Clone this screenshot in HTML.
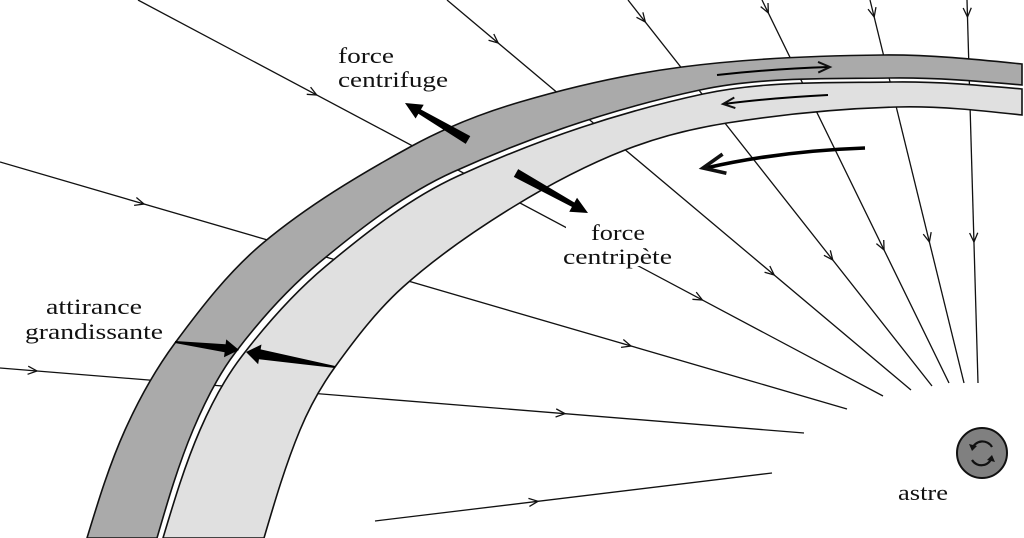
<!DOCTYPE html>
<html><head><meta charset="utf-8">
<style>
html,body{margin:0;padding:0;background:#fff;}
svg{display:block;}
text{font-family:"Liberation Serif",serif;font-size:22px;fill:#111;}
</style></head>
<body>
<svg id="s" width="1024" height="538" viewBox="0 0 1024 538" xmlns="http://www.w3.org/2000/svg">
<g id="lines" stroke="#111" stroke-width="1.3" fill="none"></g>
<g id="bands"></g>
<rect x="566" y="216" width="110" height="50" fill="#fff"/>
<g id="arrows"></g>
<circle cx="982" cy="453" r="25" fill="#808080" stroke="#111" stroke-width="2"/>
<path d="M992 447 A11 11 0 0 0 972 449" stroke="#111" stroke-width="2.2" fill="none"/>
<path d="M969 444 L972 451 L977 446 Z" fill="#111"/>
<path d="M972 460 A11 11 0 0 0 992 457" stroke="#111" stroke-width="2.2" fill="none"/>
<path d="M995 462 L992 455 L987 460 Z" fill="#111"/>
<text x="338" y="63" textLength="56" lengthAdjust="spacingAndGlyphs">force</text>
<text x="338" y="87" textLength="110" lengthAdjust="spacingAndGlyphs">centrifuge</text>
<text x="591" y="240" textLength="54" lengthAdjust="spacingAndGlyphs">force</text>
<text x="563" y="264" textLength="109" lengthAdjust="spacingAndGlyphs">centripète</text>
<text x="46" y="314" textLength="96" lengthAdjust="spacingAndGlyphs">attirance</text>
<text x="25" y="339" textLength="138" lengthAdjust="spacingAndGlyphs">grandissante</text>
<text x="898" y="500" textLength="50" lengthAdjust="spacingAndGlyphs">astre</text>
</svg>
<script>
var NS="http://www.w3.org/2000/svg";
function el(p,t,a){var e=document.createElementNS(NS,t);for(var k in a)e.setAttribute(k,a[k]);p.appendChild(e);return e;}
function dist(a,b){return Math.hypot(a[0]-b[0],a[1]-b[1]);}
function tan(P,i){var n=P.length;
if(i==0){var t=tan(P,1),L=dist(P[0],P[1]);var q=[P[1][0]-t[0]*L/3,P[1][1]-t[1]*L/3];
 var v=[(q[0]-P[0][0]),(q[1]-P[0][1])],m=Math.hypot(v[0],v[1]);return [v[0]/m,v[1]/m,1];}
if(i==n-1){var t=tan(P,n-2),L=dist(P[n-2],P[n-1]);var q=[P[n-2][0]+t[0]*L/3,P[n-2][1]+t[1]*L/3];
 var v=[(P[n-1][0]-q[0]),(P[n-1][1]-q[1])],m=Math.hypot(v[0],v[1]);return [v[0]/m,v[1]/m,1];}
var d0=dist(P[i-1],P[i]),d1=dist(P[i],P[i+1]);var ux=(P[i+1][0]-P[i-1][0])/(d0+d1),uy=(P[i+1][1]-P[i-1][1])/(d0+d1);return [ux,uy,1];}
function cr(P,start){var d=(start||"M")+P[0][0]+" "+P[0][1];for(var i=0;i<P.length-1;i++){var p1=P[i],p2=P[i+1],L=dist(p1,p2);
var t1=tan(P,i),t2=tan(P,i+1);var s1=L/3,s2=L/3;
var c1=[p1[0]+t1[0]*s1,p1[1]+t1[1]*s1],c2=[p2[0]-t2[0]*s2,p2[1]-t2[1]*s2];
d+=" C"+c1.join(" ")+" "+c2.join(" ")+" "+p2.join(" ");}return d;}
function crRev(P){return cr(P.slice().reverse(),"L");}
var L=document.getElementById("lines"),B=document.getElementById("bands"),A=document.getElementById("arrows");
function chev(g,x,y,dx,dy,len,w){var m=Math.hypot(dx,dy);dx/=m;dy/=m;var a=0.42,c=Math.cos(a),s=Math.sin(a);
var p1=[x-len*(dx*c-dy*s),y-len*(dx*s+dy*c)],p2=[x-len*(dx*c+dy*s),y-len*(-dx*s+dy*c)];
el(g,"path",{d:"M"+p1.join(" ")+" L"+x+" "+y+" L"+p2.join(" "),stroke:"#111","stroke-width":w||1.3,fill:"none"});}
function ray(x1,y1,x2,y2,ts){el(L,"line",{x1:x1,y1:y1,x2:x2,y2:y2});ts.forEach(function(t){chev(L,x1+(x2-x1)*t,y1+(y2-y1)*t,x2-x1,y2-y1,10);});}
function tAt(x1,y1,x2,y2,py){return (py-y1)/(y2-y1);}
function rayY(x1,y1,x2,y2,ys){ray(x1,y1,x2,y2,ys.map(function(y){return tAt(x1,y1,x2,y2,y);}));}
rayY(967,0,978,383,[17,242]);
rayY(870,0,964,383,[17,242]);
rayY(762,0,949,383,[13,250]);
rayY(628,0,932,386,[22,260]);
rayY(447,0,911,390,[43,275]);
rayY(138,0,883,396,[95,300]);
rayY(0,162,847,409,[204,346]);
ray(0,368,804,433,[37/804,565/804]);
ray(375,521,772,473,[(538-375)/397]);
var dO=[[87,538],[125,430],[175,343],[263,243],[410,147],[520,102],[682,67],[883,55],[1022,64]];
var dI=[[157,538],[193,430],[235,353],[320,262],[453,172],[700,90],[890,78],[1022,85]];
var lO=[[163,538],[200,430],[242,356],[326,266],[458,176],[703,94],[893,82],[1022,89]];
var lI=[[264,538],[300,430],[335,367],[403,287],[513,207],[625,150],[727,123],[897,107],[1022,115]];
el(B,"path",{d:cr(dO)+" "+crRev(dI)+" Z",fill:"#aaaaaa",stroke:"#111","stroke-width":1.6});
el(B,"path",{d:cr(lO)+" "+crRev(lI)+" Z",fill:"#e0e0e0",stroke:"#111","stroke-width":1.6});
function thick(bx,by,tx,ty,wb,wn,hl,hw){var dx=tx-bx,dy=ty-by,m=Math.hypot(dx,dy);dx/=m;dy/=m;var nx=-dy,ny=dx;
var nkx=tx-dx*hl,nky=ty-dy*hl;
var pts=[[bx+nx*wb,by+ny*wb],[nkx+nx*wn,nky+ny*wn],[nkx+nx*hw,nky+ny*hw],[tx,ty],[nkx-nx*hw,nky-ny*hw],[nkx-nx*wn,nky-ny*wn],[bx-nx*wb,by-ny*wb]];
el(A,"polygon",{points:pts.map(function(p){return p.join(",")}).join(" "),fill:"#000"});}
thick(468,140,405,103,4.5,2.5,17,8);
thick(516,173,588,213,4.5,2.5,17,8);
thick(175,342,239,350,1,4,14,9);
thick(335,367,246,352,1,5,14,10);
el(A,"path",{d:"M717 75 Q770 69 829 67",stroke:"#000","stroke-width":2,fill:"none"});
chev(A,830,67,1,-0.02,13,2);
el(A,"path",{d:"M828 95 Q770 98 724 104",stroke:"#000","stroke-width":2,fill:"none"});
chev(A,723,104,-1,0.1,13,2);
el(A,"path",{d:"M865 148 Q780 151 706 168",stroke:"#000","stroke-width":3.6,fill:"none"});
chev(A,703,168,-1,0.2,24,3.6);
</script>
</body></html>
